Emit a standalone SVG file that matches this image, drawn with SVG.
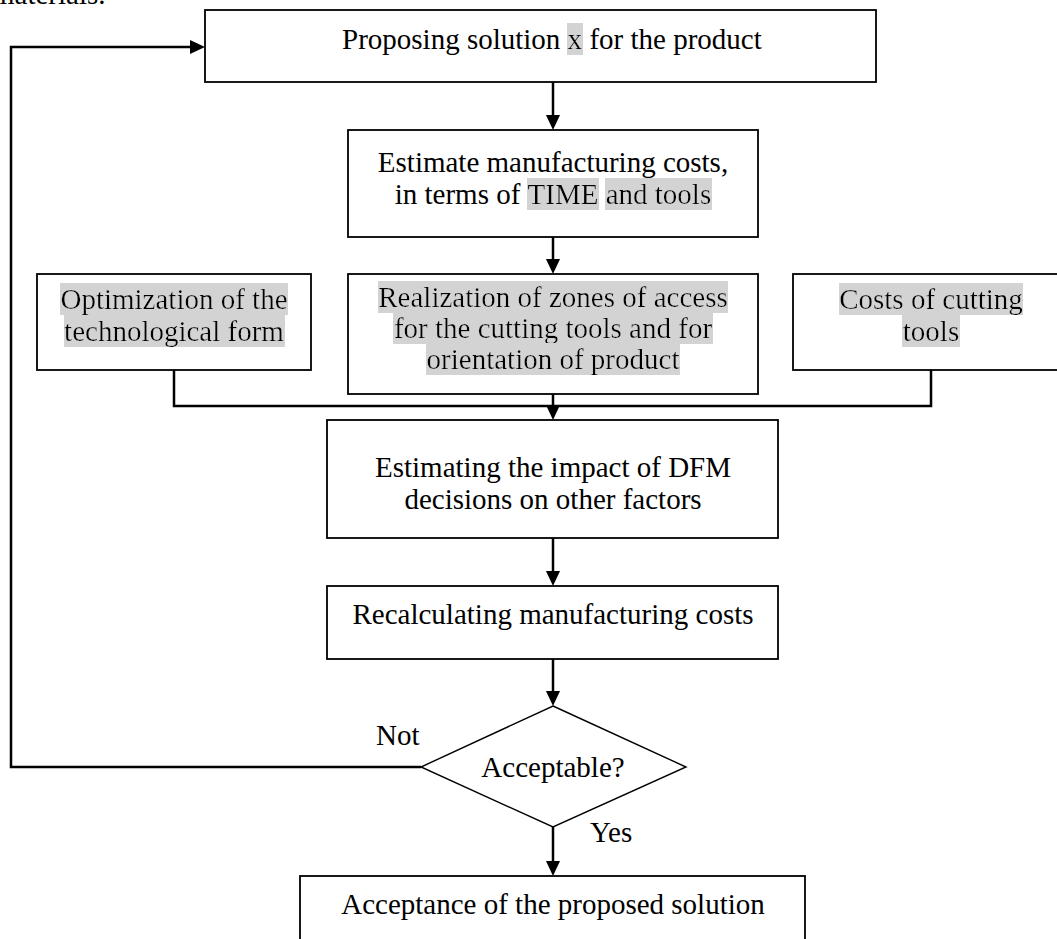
<svg xmlns="http://www.w3.org/2000/svg" width="1057" height="939" viewBox="0 0 1057 939">
<style>
text{font-family:"Liberation Serif","Times New Roman",serif;font-size:29px;fill:#000}
.c{text-anchor:middle}
.box{fill:#fff;stroke:#000;stroke-width:1.8}
.dia{fill:#fff;stroke:#000;stroke-width:1.4}
.con{fill:none;stroke:#000;stroke-width:2.5}
.arr{marker-end:url(#ah)}
</style>
<defs>
<marker id="ah" markerUnits="userSpaceOnUse" viewBox="0 0 15 14" refX="0" refY="7" markerWidth="15" markerHeight="14" orient="auto">
<path d="M0,0 L15,7 L0,14 z" fill="#000"/>
</marker>
<filter id="hl" x="0" y="0" width="1" height="1">
<feFlood flood-color="#d3d3d3" result="bg"/>
<feMerge><feMergeNode in="bg"/><feMergeNode in="SourceGraphic"/></feMerge>
</filter>
</defs>
<rect width="1057" height="939" fill="#fff"/>
<text x="-8" y="4">materials.</text>
<g id="connectors">
<path class="con arr" d="M553,82 V115"/>
<path class="con arr" d="M553,237 V259"/>
<path class="con" d="M174,370 V406 H931 V370"/>
<path class="con arr" d="M553,394 V405"/>
<path class="con arr" d="M553,538 V571"/>
<path class="con arr" d="M553,659 V691"/>
<path class="con arr" d="M553,827 V861"/>
<path class="con arr" d="M421,767 H11 V47 H190"/>
</g>
<g id="n1">
<rect class="box" x="205" y="10" width="671" height="72"/>
<text x="342" y="49">Proposing solution</text>
<text x="567.6" y="49" filter="url(#hl)">x</text>
<text x="589.4" y="49">for the product</text>
</g>
<g id="n2">
<rect class="box" x="348" y="130" width="410" height="107"/>
<text class="c" x="553" y="172">Estimate manufacturing costs,</text>
<text x="394.7" y="204">in terms of</text>
<text x="527.6" y="204" filter="url(#hl)">TIME</text>
<text x="605.7" y="204" filter="url(#hl)">and tools</text>
</g>
<g id="n3">
<rect class="box" x="37" y="274" width="274" height="96"/>
<text class="c" x="174" y="309" filter="url(#hl)">Optimization of the</text>
<text class="c" x="174" y="341" filter="url(#hl)">technological form</text>
</g>
<g id="n4">
<rect class="box" x="348" y="274" width="410" height="120"/>
<text class="c" x="553" y="307" filter="url(#hl)">Realization of zones of access</text>
<text class="c" x="553" y="338" filter="url(#hl)">for the cutting tools and for</text>
<text class="c" x="553" y="369" filter="url(#hl)">orientation of product</text>
</g>
<g id="n5">
<rect class="box" x="793" y="274" width="276" height="96"/>
<text class="c" x="931" y="309" filter="url(#hl)">Costs of cutting</text>
<text class="c" x="931" y="341" filter="url(#hl)">tools</text>
</g>
<g id="n6">
<rect class="box" x="327" y="420" width="451" height="118"/>
<text class="c" x="553" y="477">Estimating the impact of DFM</text>
<text class="c" x="553" y="509">decisions on other factors</text>
</g>
<g id="n7">
<rect class="box" x="327" y="586" width="451" height="73"/>
<text class="c" x="553" y="624">Recalculating manufacturing costs</text>
</g>
<g id="n8">
<polygon class="dia" points="553,706 686,767 553,827 421,767"/>
<text class="c" x="553" y="777">Acceptable?</text>
</g>
<g id="labels">
<text x="376" y="745">Not</text>
<text x="590" y="842">Yes</text>
</g>
<g id="n9">
<rect class="box" x="300" y="876" width="505" height="80"/>
<text class="c" x="553" y="914">Acceptance of the proposed solution</text>
</g>
</svg>
